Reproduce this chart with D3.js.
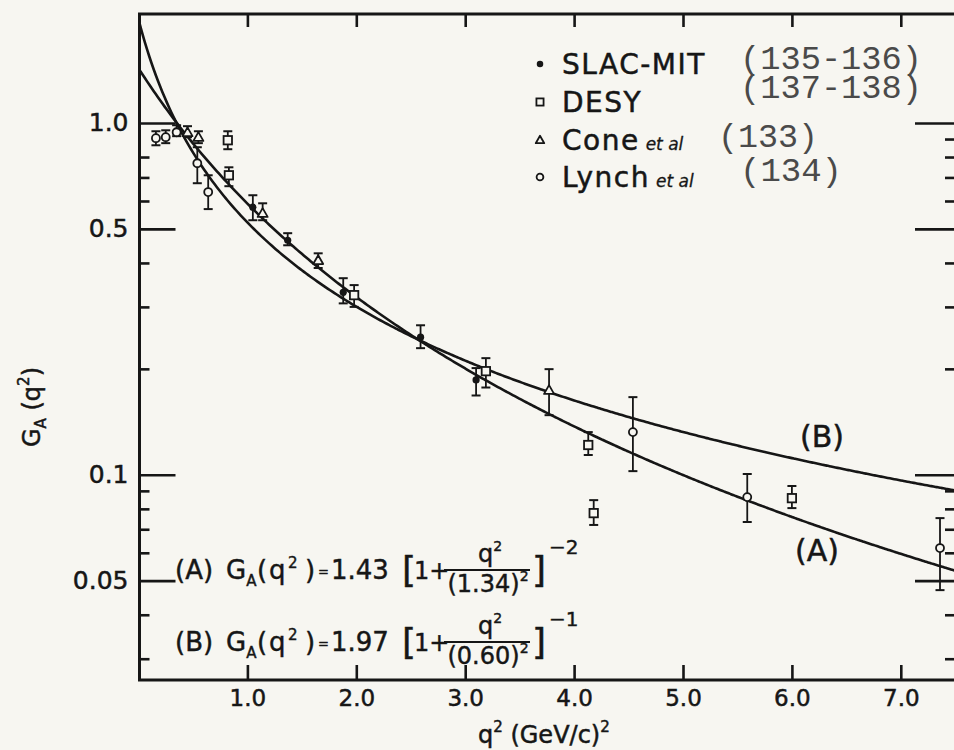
<!DOCTYPE html>
<html>
<head>
<meta charset="utf-8">
<script src="https://cdn.jsdelivr.net/npm/d3@7"></script>
<style>
  body { margin: 0; background: #f7f6f1; }
  svg { display: block; }
</style>
</head>
<body>
<div id="chart"></div>
<script>
// --- data: q^2 in (GeV/c)^2, G_A value with error range ---
const slacMit = [
    { q2: 1.05, g: 0.576, lo: 0.529, hi: 0.623 },
    { q2: 1.37, g: 0.464, lo: 0.449, hi: 0.486 },
    { q2: 1.88, g: 0.330, lo: 0.307, hi: 0.362 },
    { q2: 2.59, g: 0.246, lo: 0.229, hi: 0.266 },
    { q2: 3.10, g: 0.186, lo: 0.168, hi: 0.201 }
];
const desy = [
    { q2: 0.82, g: 0.893, lo: 0.842, hi: 0.947 },
    { q2: 0.83, g: 0.710, lo: 0.661, hi: 0.748 },
    { q2: 1.98, g: 0.324, lo: 0.300, hi: 0.346 },
    { q2: 3.19, g: 0.197, lo: 0.177, hi: 0.2145 },
    { q2: 4.13, g: 0.1215, lo: 0.1138, hi: 0.1322 },
    { q2: 4.18, g: 0.0778, lo: 0.0720, hi: 0.0847 },
    { q2: 6.00, g: 0.0858, lo: 0.0804, hi: 0.0929 }
];
const cone = [
    { q2: 0.45, g: 0.940, lo: 0.911, hi: 0.979 },
    { q2: 0.55, g: 0.911, lo: 0.876, hi: 0.947 },
    { q2: 1.14, g: 0.554, lo: 0.529, hi: 0.591 },
    { q2: 1.65, g: 0.407, lo: 0.387, hi: 0.426 },
    { q2: 3.77, g: 0.174, lo: 0.1477, hi: 0.1996 }
];
const lynch = [
    { q2: 0.16, g: 0.905, lo: 0.864, hi: 0.947 },
    { q2: 0.25, g: 0.911, lo: 0.876, hi: 0.953 },
    { q2: 0.35, g: 0.941, lo: 0.917, hi: 0.985 },
    { q2: 0.54, g: 0.768, lo: 0.674, hi: 0.853 },
    { q2: 0.64, g: 0.636, lo: 0.569, hi: 0.710 },
    { q2: 4.54, g: 0.1322, lo: 0.1024, hi: 0.1662 },
    { q2: 5.59, g: 0.0864, lo: 0.0734, hi: 0.1005 },
    { q2: 7.36, g: 0.0619, lo: 0.0470, hi: 0.0753 }
];

// fit parameters printed on the chart: G_A = norm * [1 + q2/mass^2]^-power
const fitA = { label: "A", norm: 1.43, mass: "1.34", power: 2 };
const fitB = { label: "B", norm: 1.97, mass: "0.60", power: 1 };

const xTicks = [1, 2, 3, 4, 5, 6, 7];
const yMajor = [1.0, 0.5, 0.1, 0.05];
const yMinorLeft = [0.8, 0.7, 0.6, 0.4, 0.3, 0.2, 0.09, 0.08, 0.07, 0.06, 0.04, 0.03];
const yMinorRight = [0.9, 0.8, 0.7, 0.6, 0.4, 0.3, 0.2, 0.09, 0.08, 0.07, 0.06, 0.04, 0.03];

const legendItems = [
    { name: "SLAC-MIT", etal: false, ref: ["(135-136)", "(137-138)"], shape: "dot" },
    { name: "DESY", etal: false, ref: [], shape: "square" },
    { name: "Cone", etal: true, ref: ["(133)"], shape: "triangle" },
    { name: "Lynch", etal: true, ref: ["(134)"], shape: "circle" }
];

const width = 954, height = 750;
const ink = "#161616";
const paper = "#f7f6f1";
const sans = "DejaVu Sans, sans-serif";
const plotLeft = 139.5, plotTop = 14, plotBottom = 680, plotRight = 959;

const x = d3.scaleLinear().domain([0, 7.55]).range([138.5, 138.5 + 108.9 * 7.55]);
const y = d3.scaleLog().domain([0.0261, 2.04]).range([plotBottom, plotTop]);

const svg = d3.select("#chart").append("svg")
    .attr("width", width)
    .attr("height", height)
    .attr("font-family", sans)
    .attr("fill", ink)
    .style("background", paper);

svg.append("clipPath").attr("id", "plot-clip")
    .append("rect")
    .attr("x", plotLeft).attr("y", plotTop)
    .attr("width", plotRight - plotLeft).attr("height", plotBottom - plotTop);

// lettering was done with a pen, so give the text a little body
function inked(sel, w) {
    return sel.attr("stroke", ink).attr("stroke-width", w || 0.5);
}

// --- axes ---
function styleAxis(g) {
    g.select(".domain").remove();
    g.style("color", ink)
        .attr("font-family", sans)
        .attr("font-size", 24);
    g.selectAll(".tick line").attr("stroke-width", 2.6);
    g.selectAll(".tick text").attr("fill", ink).call(inked);
}

svg.append("g")
    .attr("transform", `translate(${plotLeft},0)`)
    .call(d3.axisLeft(y).tickValues(yMajor).tickSize(-36).tickPadding(11)
        .tickFormat(d => d === 0.05 ? "0.05" : d3.format(".1f")(d)))
    .call(styleAxis)
    .attr("font-size", 25);

svg.append("g")
    .attr("transform", `translate(${plotLeft},0)`)
    .call(d3.axisLeft(y).tickValues(yMinorLeft).tickSize(-10).tickFormat(""))
    .call(styleAxis);

svg.append("g")
    .attr("transform", `translate(${plotRight},0)`)
    .call(d3.axisRight(y).tickValues(yMajor).tickSize(-44).tickFormat(""))
    .call(styleAxis);

svg.append("g")
    .attr("transform", `translate(${plotRight},0)`)
    .call(d3.axisRight(y).tickValues(yMinorRight).tickSize(-14).tickFormat(""))
    .call(styleAxis);

svg.append("g")
    .attr("transform", `translate(0,${plotBottom})`)
    .call(d3.axisBottom(x).tickValues(xTicks).tickSize(-15).tickPadding(10)
        .tickFormat(d3.format(".1f")))
    .call(styleAxis)
    .attr("font-size", 23);

svg.append("g")
    .attr("transform", `translate(0,${plotTop})`)
    .call(d3.axisTop(x).tickValues(xTicks).tickSize(-13).tickFormat(""))
    .call(styleAxis);

// frame
svg.append("path")
    .attr("d", `M${plotRight + 2},${plotTop}H${plotLeft}V${plotBottom}H${plotRight + 2}`)
    .attr("fill", "none")
    .attr("stroke", ink)
    .attr("stroke-width", 3);

// axis titles
const xTitle = svg.append("text")
    .attr("x", 478).attr("y", 743)
    .attr("font-size", 24).call(inked);
xTitle.append("tspan").text("q");
xTitle.append("tspan").attr("font-size", 15).attr("dy", -11).text("2");
xTitle.append("tspan").attr("dy", 11).text(" (GeV/c)");
xTitle.append("tspan").attr("font-size", 15).attr("dy", -11).text("2");

const yTitle = svg.append("text")
    .attr("transform", "translate(40,447) rotate(-90)")
    .attr("font-size", 24).call(inked);
yTitle.append("tspan").text("G");
yTitle.append("tspan").attr("font-size", 15).attr("dy", 6).text("A");
yTitle.append("tspan").attr("dy", -6).text(" (q");
yTitle.append("tspan").attr("font-size", 15).attr("dy", -11).text("2");
yTitle.append("tspan").attr("dy", 11).text(")");

// --- fit curves ---
const q2Grid = d3.range(0, 7.56, 0.02);
const line = d3.line().x(d => x(d[0])).y(d => y(d[1])).curve(d3.curveBasis);

[fitA, fitB].forEach(fit => {
    const m2 = (+fit.mass) ** 2;
    const pts = q2Grid.map(q => [q, fit.norm * Math.pow(1 + q / m2, -fit.power)]);
    svg.append("path")
        .attr("clip-path", "url(#plot-clip)")
        .attr("d", line(pts))
        .attr("fill", "none")
        .attr("stroke", ink)
        .attr("stroke-width", 2.6);
});

svg.append("text").attr("x", 800).attr("y", 447).attr("font-size", 30).call(inked).text("(B)");
svg.append("text").attr("x", 795).attr("y", 561).attr("font-size", 30).call(inked).text("(A)");

// --- markers with error bars ---
function drawMarker(g, shape, cx, cy, s) {
    if (shape === "dot") {
        g.append("circle").attr("cx", cx).attr("cy", cy).attr("r", 3.6 * s)
            .attr("fill", ink);
    } else if (shape === "circle") {
        g.append("circle").attr("cx", cx).attr("cy", cy).attr("r", 4 * s)
            .attr("fill", paper).attr("stroke", ink).attr("stroke-width", 1.8);
    } else if (shape === "square") {
        const h = 4.2 * s;
        g.append("rect").attr("x", cx - h).attr("y", cy - h)
            .attr("width", 2 * h).attr("height", 2 * h)
            .attr("fill", paper).attr("stroke", ink).attr("stroke-width", 1.8);
    } else {
        const h = 5 * s;
        g.append("path")
            .attr("d", `M${cx},${cy - h}L${cx + h},${cy + h * 0.75}L${cx - h},${cy + h * 0.75}Z`)
            .attr("fill", paper).attr("stroke", ink).attr("stroke-width", 1.8)
            .attr("stroke-linejoin", "round");
    }
}

const series = [
    { data: cone, shape: "triangle" },
    { data: lynch, shape: "circle" },
    { data: desy, shape: "square" },
    { data: slacMit, shape: "dot" }
];

const pointsLayer = svg.append("g");
series.forEach(s => {
    s.data.forEach(d => {
        const g = pointsLayer.append("g");
        const cx = x(d.q2);
        g.append("line")
            .attr("x1", cx).attr("x2", cx)
            .attr("y1", y(d.hi)).attr("y2", y(d.lo))
            .attr("stroke", ink).attr("stroke-width", 1.8);
        [d.hi, d.lo].forEach(v => {
            g.append("line")
                .attr("x1", cx - 4.5).attr("x2", cx + 4.5)
                .attr("y1", y(v)).attr("y2", y(v))
                .attr("stroke", ink).attr("stroke-width", 2);
        });
        drawMarker(g, s.shape, cx, y(d.g), 1);
    });
});

// --- legend ---
const legend = svg.append("g");
const rowBase = [74, 112, 150, 187];
legendItems.forEach((item, i) => {
    const by = rowBase[i];
    drawMarker(legend, item.shape, 540, by - 10, item.shape === "dot" ? 0.9 : 0.85);
    const t = legend.append("text").attr("x", 562).attr("y", by)
        .attr("font-size", 28).attr("letter-spacing", 1.5).call(inked).text(item.name);
    if (item.etal) {
        const w = t.node().getComputedTextLength();
        legend.append("text").attr("x", 562 + w + 6).attr("y", by)
            .attr("font-size", 17).attr("font-style", "italic").call(inked, 0.3).text("et al");
    }
});

// typewritten reference numbers
const refFont = "Liberation Mono, DejaVu Sans Mono, monospace";
const refSpots = [
    { text: legendItems[0].ref[0], x: 740, y: 69, w: 182 },
    { text: legendItems[0].ref[1], x: 740, y: 98, w: 182 },
    { text: legendItems[2].ref[0], x: 718, y: 147, w: 100 },
    { text: legendItems[3].ref[0], x: 740, y: 181, w: 102 }
];
refSpots.forEach(r => {
    svg.append("text")
        .attr("x", r.x).attr("y", r.y)
        .attr("font-family", refFont)
        .attr("font-size", 34)
        .attr("textLength", r.w)
        .attr("lengthAdjust", "spacingAndGlyphs")
        .attr("fill", "#4a4a4a")
        .text(r.text);
});

// --- fit formulas ---
function formula(fit, y0) {
    const g = svg.append("g").call(inked, 0.45);
    const main = g.append("text").attr("x", 175).attr("y", y0).attr("font-size", 26);
    main.append("tspan").text(`(${fit.label})`);
    main.append("tspan").attr("x", 226).text("G");
    main.append("tspan").attr("font-size", 15).attr("dy", 7).text("A");
    main.append("tspan").attr("x", 257).attr("dy", -7).text("(");
    main.append("tspan").attr("x", 269).text("q");
    main.append("tspan").attr("x", 288).attr("font-size", 15).attr("dy", -11).text("2");
    main.append("tspan").attr("x", 305).attr("dy", 11).text(")");
    g.append("text").attr("x", 318).attr("y", y0 - 3).attr("font-size", 13).text("=");
    g.append("text").attr("x", 331).attr("y", y0).attr("font-size", 26)
        .text(fit.norm.toFixed(2));
    g.append("text").attr("x", 402).attr("y", y0 + 3).attr("font-size", 36).text("[");
    g.append("text").attr("x", 414).attr("y", y0).attr("font-size", 24).text("1+");
    g.append("line").attr("x1", 444).attr("x2", 530)
        .attr("y1", y0 - 9).attr("y2", y0 - 9)
        .attr("stroke", ink).attr("stroke-width", 1.8);
    const num = g.append("text").attr("x", 490).attr("y", y0 - 17)
        .attr("font-size", 24).attr("text-anchor", "middle");
    num.append("tspan").text("q");
    num.append("tspan").attr("font-size", 14).attr("dy", -11).text("2");
    const den = g.append("text").attr("x", 488).attr("y", y0 + 13)
        .attr("font-size", 24).attr("text-anchor", "middle");
    den.append("tspan").text(`(${fit.mass})`);
    den.append("tspan").attr("font-size", 14).attr("dy", -11).text("2");
    g.append("text").attr("x", 532).attr("y", y0 + 3).attr("font-size", 36).text("]");
    g.append("text").attr("x", 549).attr("y", y0 - 25).attr("font-size", 20)
        .text(`\u2212${fit.power}`);
}
formula(fitA, 579);
formula(fitB, 651);
</script>
</body>
</html>
